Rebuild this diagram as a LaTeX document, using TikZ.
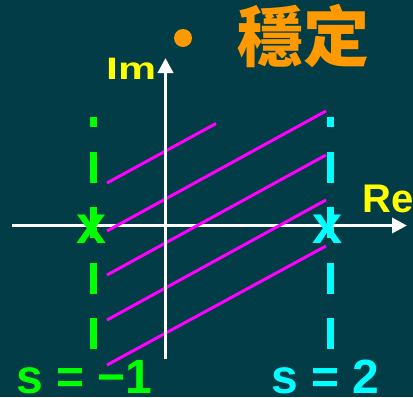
\documentclass[tikz,border=0pt]{standalone}
\usepackage{fontspec}
\setmainfont{Liberation Sans}
\newfontfamily\cjk{Noto Sans CJK TC}
\usetikzlibrary{arrows.meta}
\definecolor{bgc}{RGB}{2,60,70}
\definecolor{orng}{RGB}{255,153,0}
\definecolor{yel}{RGB}{255,255,0}
\definecolor{grn}{RGB}{0,255,0}
\definecolor{cyn}{RGB}{0,255,255}
\definecolor{mag}{RGB}{255,0,255}
\tikzset{
  axis/.style={white, line width=3.5pt, -{Triangle[length=15pt,width=15pt]}},
  hatch/.style={mag, line width=3pt},
  poleline/.style={line width=7pt, dash pattern=on 31pt off 24.5pt, dash phase=21pt},
  lbl/.style={inner sep=0pt, anchor=base west, font=\bfseries\fontsize{48}{48}\selectfont},
  polemark/.style={inner sep=0pt, anchor=base, font=\bfseries\fontsize{54}{54}\selectfont},
}
\begin{document}
\begin{tikzpicture}[x=1pt,y=-1pt]
\fill[bgc] (0,0) rectangle (413,397);
\useasboundingbox (0,0) rectangle (413,397);
% title
\fill[orng] (183,38) circle (9);
\node[inner sep=0pt, anchor=base west, text=orng, font=\cjk\bfseries\fontsize{66}{66}\selectfont] (title) at (237,61) {穩定};
% pole lines
\coordinate (g1) at (93,117); \coordinate (g2) at (93,351);
\coordinate (c1) at (330,117); \coordinate (c2) at (330,351);
\draw[poleline, grn] (g1) -- (g2);
\draw[poleline, cyn] (c1) -- (c2);
% horizontal axis
\coordinate (xs) at (12,225.5); \coordinate (xe) at (407,225.5);
\draw[axis] (xs) -- (xe);
% hatch lines
\draw[hatch] (107,183) -- (216,123.5);
\draw[hatch] (107,231) -- (326,111);
\draw[hatch] (107,275) -- (326,155);
\draw[hatch] (107,320) -- (326,200);
\draw[hatch] (107,365) -- (326,246);
% vertical axis
\coordinate (ys) at (165.5,359); \coordinate (ye) at (165.5,58);
\draw[axis] (ys) -- (ye);
% pole marks
\node[polemark, text=grn] (p1) at (91.5,243) {x};
\node[polemark, text=cyn] (p2) at (328,243) {x};
% labels
\node[inner sep=0pt, anchor=base west, text=yel, font=\bfseries\fontsize{31}{31}\selectfont] (im) at (106,79) {\scalebox{1.38}[1]{Im}};
\node[inner sep=0pt, anchor=base west, text=yel, font=\bfseries\fontsize{40}{40}\selectfont] (re) at (362,212) {Re};
\node[lbl, text=grn] (s1) at (16,393) {s = −1};
\node[lbl, text=cyn] (s2) at (271,393) {s = 2};
\end{tikzpicture}
\end{document}
